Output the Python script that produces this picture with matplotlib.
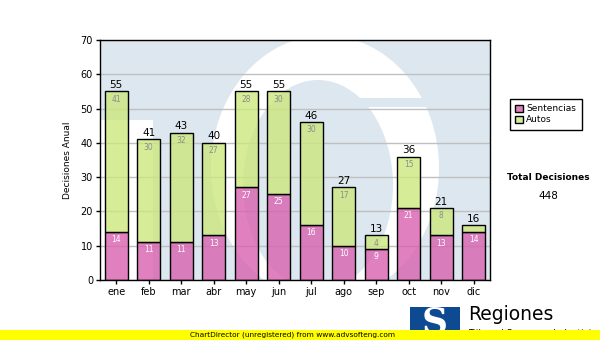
import matplotlib.pyplot as plt
import numpy as np
from matplotlib.patches import Patch, Rectangle, Ellipse

# Data
meses = ['ene', 'feb', 'mar', 'abr', 'may', 'jun', 'jul', 'ago', 'sep', 'oct', 'nov', 'dic']
sentencias = [14, 11, 11, 13, 27, 25, 16, 10, 9, 21, 13, 14]
autos = [41, 30, 32, 27, 28, 30, 30, 17, 4, 15, 8, 2]
y_ticks = [0, 10, 20, 30, 40, 50, 60, 70]

pink = (0.85, 0.38, 0.69, 0.8)
green = (0.80, 0.91, 0.49, 0.8)
wm_blue = '#dde7f0'

fig = plt.figure(figsize=(6, 3.4), dpi=100)
ax = fig.add_axes([100 / 600, 60 / 340, 390 / 600, 240 / 340])
ax.set_facecolor(wm_blue)


# watermark logo, sketched in pixel units of the plot box
def px(x0, y0):
    return ((x0 - 100) / 390, (280 - y0) / 240)


def blob(cx, cy, w, h, color, z):
    e = Ellipse(px(cx, cy), w / 390, h / 240, transform=ax.transAxes,
                facecolor=color, edgecolor='none', zorder=z)
    ax.add_patch(e)


def box(x0, y0, x1, y1, color, z):
    r = Rectangle(px(x0, y1), (x1 - x0) / 390, (y1 - y0) / 240, transform=ax.transAxes,
                  facecolor=color, edgecolor='none', zorder=z)
    ax.add_patch(r)


box(100, 120, 153, 280, 'white', 0.1)
blob(325, 168, 228, 265, 'white', 0.1)
blob(318, 185, 150, 210, wm_blue, 0.2)
box(347, 98, 445, 107, wm_blue, 0.2)

x = np.arange(len(meses))
totales = [s + a for s, a in zip(sentencias, autos)]

ax.bar(x, sentencias, width=0.72, facecolor=pink, edgecolor='black', linewidth=1, zorder=2)
ax.bar(x, autos, bottom=sentencias, width=0.72, facecolor=green, edgecolor='black', linewidth=1, zorder=2)

for i in range(len(meses)):
    ax.text(x[i], sentencias[i] - 0.9, str(sentencias[i]), ha='center', va='top',
            color='white', fontsize=5.5, zorder=3)
    if autos[i] >= 3:
        ax.text(x[i], totales[i] - 0.9, str(autos[i]), ha='center', va='top',
                color='#8c8c8c', fontsize=5.5, zorder=3)
    ax.text(x[i], totales[i] + 0.4, str(totales[i]), ha='center', va='bottom',
            color='black', fontsize=7.5, zorder=3)

ax.set_xlim(-0.5, len(meses) - 0.5)
ax.set_ylim(0, 70)
ax.set_yticks(y_ticks)
ax.set_xticks(x)
ax.set_xticklabels(meses)
ax.tick_params(axis='both', labelsize=7, length=3, width=1, direction='out', pad=2)
ax.set_axisbelow(True)
ax.yaxis.grid(True, color='#c0c0c0', linewidth=1, zorder=0.5)
for sp in ax.spines.values():
    sp.set_linewidth(1)
ax.set_ylabel('Decisiones Anual', fontsize=6.5, labelpad=6)

# legend
handles = [Patch(facecolor='#e080c0', edgecolor='black', label='Sentencias'),
           Patch(facecolor='#d6ec98', edgecolor='black', label='Autos')]
leg = fig.legend(handles=handles, loc='upper left', bbox_to_anchor=(510 / 600, 1 - 99 / 340),
                 fontsize=6.5, frameon=True, fancybox=False, framealpha=1,
                 handlelength=0.8, handleheight=0.8, handletextpad=0.4,
                 borderpad=0.6, labelspacing=0.2, borderaxespad=0)
leg.get_frame().set_edgecolor('black')
leg.get_frame().set_linewidth(1)

fig.text(548 / 600, 1 - 177 / 340, 'Total Decisiones', ha='center', va='center',
         fontsize=6.5, weight='bold')
fig.text(548 / 600, 1 - 196 / 340, str(sum(totales)), ha='center', va='center', fontsize=7.5)

# logo at the bottom
fig.patches.append(Rectangle((410 / 600, 0), 50 / 600, 33 / 340, transform=fig.transFigure,
                             facecolor='#0d4a92', edgecolor='none', zorder=1))
fig.text(435 / 600, 0.5 / 340, 'S', ha='center', va='bottom', fontsize=26,
         family='DejaVu Serif', weight='bold', color='white', zorder=2)
fig.text(468 / 600, 1 - 315 / 340, 'Regiones', ha='left', va='center', fontsize=13.5, zorder=2)
fig.text(468 / 600, 1 - 334 / 340, 'Tribunal Supremo de Justicia', ha='left', va='center',
         fontsize=6.5, zorder=2)

# yellow banner
fig.patches.append(Rectangle((0, 0), 1, 10 / 340, transform=fig.transFigure,
                             facecolor='#ffff00', edgecolor='none', zorder=5))
fig.text(190 / 600, 5 / 340, 'ChartDirector (unregistered) from www.advsofteng.com',
         ha='left', va='center', fontsize=5.3, zorder=6)

fig.savefig('out.png', dpi=100)
